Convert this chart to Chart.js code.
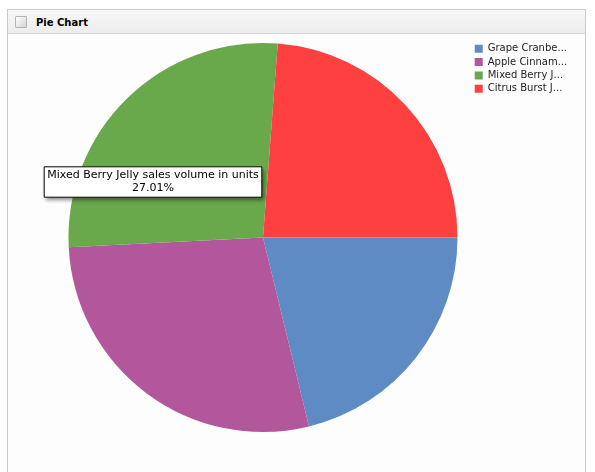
<!DOCTYPE html>
<html>
<head>
<meta charset="utf-8">
<script src="https://cdn.jsdelivr.net/npm/chart.js@4/dist/chart.umd.min.js"></script>
<style>
  html, body { margin: 0; padding: 0; background: #ffffff; width: 595px; height: 472px; overflow: hidden; }
  .panel { position: absolute; left: 7px; top: 9px; width: 577px; height: 480px; border: 1px solid #cbcbcb; background: #fdfdfd; }
  .hdr { position: absolute; left: 0; top: 0; right: 0; height: 23px; border-bottom: 1px solid #d6d6d6;
         background: linear-gradient(#f8f8f8, #ececec); }
  .chk { position: absolute; left: 7px; top: 6px; width: 10px; height: 10px; border: 1px solid #b4b4b4;
         background: linear-gradient(135deg, #ffffff, #d4d4d4); border-radius: 1px; }
  .ttl { position: absolute; left: 28px; top: 1px; font: bold 10px "DejaVu Sans", Verdana, sans-serif; line-height: 23px; color: #000; }
  #wrap { position: absolute; left: 8px; top: 34px; width: 576px; height: 438px; }
</style>
</head>
<body>
<div class="panel">
  <div class="hdr"><div class="chk"></div><div class="ttl">Pie Chart</div></div>
</div>
<div id="wrap"><canvas id="c" width="576" height="438"></canvas></div>
<script>
// ---- data ----
const categories = [
  "Grape Cranberry Jelly sales volume in units",
  "Apple Cinnamon Jelly sales volume in units",
  "Mixed Berry Jelly sales volume in units",
  "Citrus Burst Jelly sales volume in units"
];
const salesShare = [21.2, 28.0, 27.01, 23.79];
const sliceColors = ["#5f8bc4", "#b2579c", "#6aa84c", "#ff4040"];
const highlightedIndex = 2;

const FONT = '"DejaVu Sans", Verdana, sans-serif';
const LEGEND_TEXT_MAX = 70.2;
const LEGEND_WIDTH = 112.6;

function truncate(ctx, text, maxW) {
  ctx.save();
  ctx.font = '10px ' + FONT;
  let out = text;
  if (ctx.measureText(text).width > maxW) {
    let n = text.length;
    while (n > 1 && ctx.measureText(text.slice(0, n)).width > maxW) n--;
    out = text.slice(0, n) + '...';
  }
  ctx.restore();
  return out;
}

const fixedLegendWidth = {
  id: 'fixedLegendWidth',
  beforeInit(chart) {
    const lg = chart.legend;
    if (!lg) return;
    const orig = lg.fit;
    lg.fit = function () { orig.call(this); this.width = LEGEND_WIDTH; };
  }
};

const tooltipShadow = {
  id: 'tooltipShadow',
  beforeTooltipDraw(chart, args) {
    const t = args.tooltip;
    if (!t || !t.opacity) return;
    const ctx = chart.ctx;
    ctx.save();
    ctx.shadowColor = 'rgba(0,0,0,0.45)';
    ctx.shadowBlur = 4;
    ctx.shadowOffsetX = 2;
    ctx.shadowOffsetY = 3;
    ctx.fillStyle = '#ffffff';
    ctx.fillRect(t.x, t.y, t.width, t.height);
    ctx.restore();
  }
};

Chart.Tooltip.positioners.hoverPoint = function (elements) {
  if (!elements.length) return false;
  const el = elements[0].element;
  const r = el.outerRadius;
  return { x: el.x - 0.5656 * r, y: el.y - 0.2853 * r };
};

const chart = new Chart(document.getElementById('c'), {
  type: 'pie',
  data: {
    labels: categories,
    datasets: [{
      data: salesShare,
      backgroundColor: sliceColors,
      hoverBackgroundColor: sliceColors,
      borderWidth: 0,
      hoverBorderWidth: 0,
      hoverOffset: 0,
      radius: 194.5
    }]
  },
  options: {
    responsive: false,
    animation: false,
    events: [],
    rotation: 90,
    layout: { padding: { left: 46.6, right: 0, top: 6.4, bottom: 37.4 } },
    plugins: {
      legend: {
        position: 'right',
        align: 'start',
        labels: {
          boxWidth: 8,
          boxHeight: 8,
          padding: 3.33,
          color: '#222',
          font: { family: FONT, size: 10 },
          generateLabels(chart) {
            const items = Chart.overrides.pie.plugins.legend.labels.generateLabels(chart);
            items.forEach(it => { it.text = truncate(chart.ctx, it.text, LEGEND_TEXT_MAX); it.lineWidth = 0; });
            return items;
          }
        }
      },
      tooltip: {
        enabled: true,
        position: 'hoverPoint',
        xAlign: 'center',
        yAlign: 'center',
        caretSize: 0,
        caretPadding: 0,
        cornerRadius: 0,
        backgroundColor: '#ffffff',
        borderColor: '#000000',
        borderWidth: 1,
        displayColors: false,
        titleColor: '#000',
        bodyColor: '#000',
        titleFont: { family: FONT, size: 11, weight: 'normal', lineHeight: 1.2 },
        bodyFont: { family: FONT, size: 11, weight: 'normal', lineHeight: 1.2 },
        titleAlign: 'center',
        bodyAlign: 'center',
        titleMarginBottom: 0,
        titleSpacing: 0,
        bodySpacing: 0,
        padding: { top: 2, bottom: 2, left: 3, right: 3 },
        callbacks: {
          title(items) { return categories[items[0].dataIndex]; },
          label(item) {
            const total = salesShare.reduce((a, b) => a + b, 0);
            return (item.raw / total * 100).toFixed(2) + '%';
          }
        }
      }
    }
  },
  plugins: [fixedLegendWidth, tooltipShadow]
});

chart.tooltip.setActiveElements([{ datasetIndex: 0, index: highlightedIndex }], { x: 0, y: 0 });
chart.update();
</script>
</body>
</html>
